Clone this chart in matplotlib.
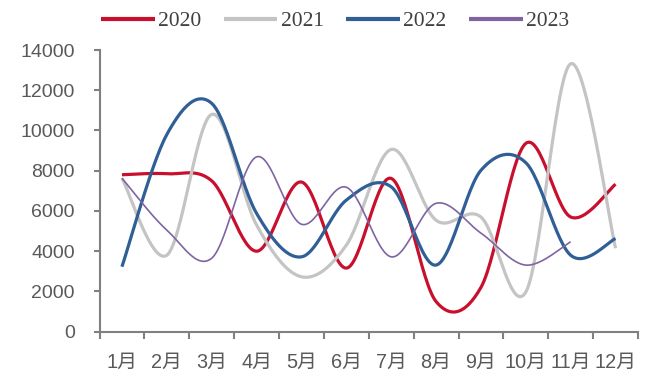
import numpy as np
import matplotlib.pyplot as plt

months = ["1月", "2月", "3月", "4月", "5月", "6月", "7月", "8月", "9月", "10月", "11月", "12月"]
y2020 = [7800, 7850, 7500, 4000, 7440, 3160, 7620, 1500, 2200, 9360, 5700, 7330]
y2021 = [7630, 3800, 10800, 5300, 2730, 4300, 9060, 5540, 5700, 1970, 13320, 4150]
y2022 = [3230, 9800, 11350, 5880, 3720, 6540, 7200, 3310, 8020, 8400, 3800, 4630]
y2023 = [7630, 5050, 3650, 8690, 5340, 7180, 3720, 6380, 4900, 3310, 4470]

series = [("2020", y2020, "#C8102E", 2.3),
          ("2021", y2021, "#C4C4C4", 2.3),
          ("2022", y2022, "#2F5F95", 2.3),
          ("2023", y2023, "#8064A2", 1.2)]


## Excel-like smoothed line (Catmull-Rom through the points, drawn as Bezier)
def smooth(xs, ys, n=30):
	P = np.column_stack([xs, ys]).astype(float)
	P = np.vstack([P[0], P, P[-1]])
	out = []
	for i in range(1, len(P) - 2):
		p0, p1, p2, p3 = P[i - 1], P[i], P[i + 1], P[i + 2]
		c1 = p1 + (p2 - p0) / 6
		c2 = p2 - (p3 - p1) / 6
		t = np.linspace(0, 1, n)[:, None]
		seg = (1 - t)**3*p1 + 3*(1 - t)**2*t*c1 + 3*(1 - t)*t**2*c2 + t**3*p2
		out.append(seg if i == 1 else seg[1:])
	out = np.vstack(out)
	return out[:, 0], out[:, 1]


fig = plt.figure(figsize=(6.51, 3.76), dpi=100)
ax = fig.add_axes([99.5/651, (376-331.7)/376, 538.5/651, 281.7/376])

for name, vals, col, lw in series:
	sx, sy = smooth(np.arange(1, len(vals) + 1), vals)
	ax.plot(sx, sy, color=col, lw=lw, label=name, solid_capstyle="butt")

ax.set_xlim(0.5, 12.5)
ax.set_ylim(0, 14000)
ax.set_yticks(np.arange(0, 14001, 2000))
ax.set_xticks(np.arange(0.5, 12.6, 1))
ax.set_xticklabels([])
ax.set_xticks(np.arange(1, 13), minor=True)
ax.set_xticklabels(months, minor=True, family=["Liberation Sans", "Noto Sans CJK SC"],
                   fontsize=14.3, color="#595959")
ax.tick_params(axis="x", which="minor", length=0, pad=15)
ax.tick_params(axis="x", which="major", length=5, width=1.5, color="#808080")
ax.tick_params(axis="y", length=4.3, width=1.5, color="#808080", labelsize=14,
               labelcolor="#595959", pad=13.5)
for lab in ax.get_yticklabels():
	lab.set_family("Liberation Sans")

for s in ["top", "right"]:
	ax.spines[s].set_visible(False)
for s in ["left", "bottom"]:
	ax.spines[s].set_color("#808080")
	ax.spines[s].set_linewidth(1.5)

leg = fig.legend(loc="center", bbox_to_anchor=(335/651, 1 - 21/376), ncol=4, frameon=False,
                 prop={"family": "Liberation Serif", "size": 15.5}, handlelength=2.5,
                 handletextpad=0.15, columnspacing=1.05)
for t in leg.get_texts():
	t.set_color("#404040")
for h in leg.get_lines():
	h.set_linewidth(3)

fig.savefig("out.png", dpi=100)
